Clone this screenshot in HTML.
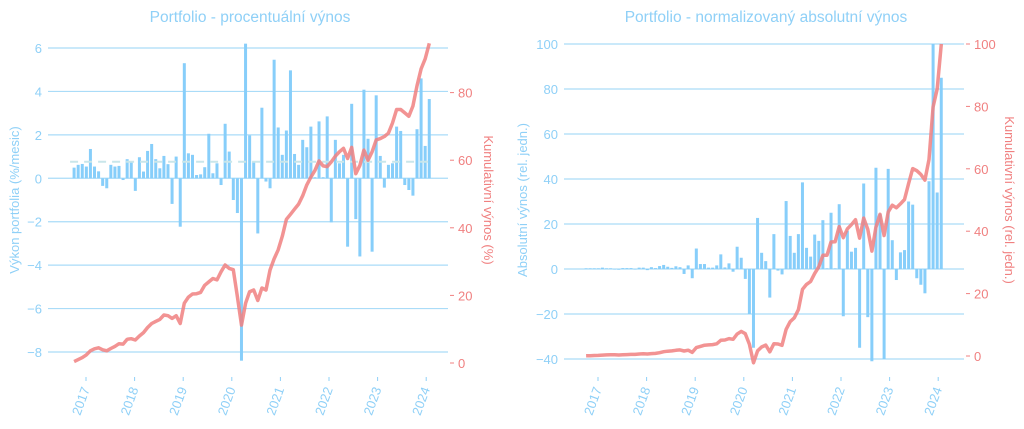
<!DOCTYPE html>
<html><head><meta charset="utf-8"><style>
body{margin:0;background:#fff;}
svg{display:block;font-family:"Liberation Sans",sans-serif;}
</style></head><body>
<svg id="chart" width="1024" height="429" viewBox="0 0 1024 429"></svg>
<script>
// ---- data ----
const years = [2017,2018,2019,2020,2021,2022,2023,2024];
const startYear = 2016.755; // first monthly bar (Oct 2016)
const pctReturns = [0.49,0.62,0.66,0.54,1.35,0.54,0.32,-0.35,-0.46,0.62,0.54,0.57,-0.08,0.88,0.77,-0.58,0.97,0.31,1.26,1.58,0.88,0.46,1.03,0.65,-1.18,1.0,-2.23,5.3,1.15,1.08,0.15,0.18,0.51,2.05,0.23,0.69,-0.31,2.51,1.23,-1.0,-1.6,-8.4,6.2,1.97,0.77,-2.54,3.25,-0.15,-0.46,5.46,2.34,1.08,2.2,4.97,1.12,0.62,1.77,1.43,2.38,0.05,2.62,0.05,2.85,-2.03,1.77,0.69,1.08,-3.15,3.43,-1.88,-3.6,4.08,1.82,-3.38,3.82,1.03,-0.43,0.62,0.69,2.38,2.18,-0.31,-0.54,-0.8,2.26,4.6,1.49,3.65];
const cumPct = [0.4,1.0,1.6,2.4,3.6,4.2,4.5,3.9,3.6,4.3,4.9,5.7,5.6,7.0,7.2,6.8,8.0,9.0,10.5,11.7,12.3,12.9,14.2,14.0,13.2,14.0,11.7,17.7,19.5,20.4,20.5,20.9,23.0,24.0,25.0,24.6,27.0,29.0,28.0,27.6,19.6,11.2,17.7,21.1,21.6,18.5,22.2,21.6,27.5,30.8,33.5,37.5,42.5,44.0,45.5,47.0,49.5,52.7,55.0,57.0,59.8,58.3,58.1,59.5,61.2,62.5,63.5,60.5,63.8,56.0,58.5,63.0,60.0,62.5,66.0,66.4,67.0,68.0,71.0,75.0,75.0,74.0,73.0,76.0,82.0,87.0,90.0,94.6];
const absReturns = [0.3,0.3,0.3,0.3,0.6,0.3,0.3,-0.2,-0.3,0.4,0.4,0.4,0,0.6,0.6,-0.5,0.8,0.4,1.3,1.8,1.0,0.5,1.2,0.8,-2.2,1.6,-4.1,9.1,2.2,2.2,0.6,0.6,1.6,6.5,0.7,2.5,-1.2,9.9,5.0,-4.4,-20,-35,22.7,7.2,3.5,-12.7,15.5,-0.7,-2.4,30.2,14.7,7.2,15.5,38.5,9.4,5.5,15.3,12.5,21.7,0.3,25,0.3,28.8,-21,17,7.7,9.4,-35,38,-21.4,-41,45,24.6,-40,44.5,12.8,-4.9,7.4,8.4,30,28.6,-4.1,-7,-10.8,39,100,34,85];
const meanPct = 0.76;
const leftTicksA = [6,4,2,0,-2,-4,-6,-8];
const rightTicksA = [0,20,40,60,80];
const leftTicksB = [100,80,60,40,20,0,-20,-40];
const rightTicksB = [0,20,40,60,80,100];

const NS="http://www.w3.org/2000/svg";
const svg=document.getElementById('chart');
function mk(tag,attrs,parent,name,inter){const e=document.createElementNS(NS,tag);for(const k in attrs)e.setAttribute(k,attrs[k]);


(parent||svg).appendChild(e);return e;}
const BLUE='#87cefa', GRID='#aadcf8', TXT='#8fd0f7', RED='#f08080';

function drawPanel(o){
  const g=mk('g',{},svg,o.name,false);
  const xS=t=>o.x2017+(t-2017)*o.pxYear;
  const yL=v=>o.y0L+(v-o.tL0)*(o.y1L-o.y0L)/(o.tL1-o.tL0);
  const yR=v=>o.y0R+(v)*(o.y100R-o.y0R)/100;
  const t=mk('text',{x:o.titleX,y:22,'text-anchor':'middle','font-size':15.5,fill:TXT},g,'chart-title',false);t.textContent=o.title;
  o.ticksL.forEach(v=>{
    mk('line',{x1:o.gx0,x2:o.gx1,y1:yL(v),y2:yL(v),stroke:GRID,'stroke-width':1.2},g,'grid-line',false);
    const tx=mk('text',{x:o.gx0-6,y:yL(v)+5,'text-anchor':'end','font-size':13,fill:TXT},g,'y-tick-label',false);tx.textContent=(v<0?'\u2212'+(-v):v);
  });
  o.ticksR.forEach(v=>{
    mk('line',{x1:o.gx1+2,x2:o.gx1+6,y1:yR(v),y2:yR(v),stroke:RED,'stroke-width':1},g,'right-tick',false);
    const tx=mk('text',{x:o.gx1+10,y:yR(v)+5,'font-size':13,fill:RED},g,'right-tick-label',false);tx.textContent=v;
  });
  years.forEach(yr=>{
    const x=xS(yr);
    mk('line',{x1:x,x2:x,y1:377,y2:381,stroke:TXT,'stroke-width':1},g,'x-tick',false);
    const tx=mk('text',{x:x+4,y:389,'text-anchor':'end','font-size':13,fill:TXT,transform:`rotate(-70 ${x+4} 389)`},g,'x-tick-label',false);tx.textContent=yr;
  });
  const a1=mk('text',{x:o.ylabX,y:o.ylabY,'text-anchor':'middle','font-size':13,fill:TXT,transform:`rotate(-90 ${o.ylabX} ${o.ylabY})`},g,'y-axis-title',false);a1.textContent=o.ylab;
  const a2=mk('text',{x:o.rlabX,y:o.ylabY,'text-anchor':'middle','font-size':13,fill:RED,transform:`rotate(90 ${o.rlabX} ${o.ylabY})`},g,'y2-axis-title',false);a2.textContent=o.rlab;
  o.bars.forEach((v,i)=>{
    const x=xS(startYear+i*0.084);
    const y0=yL(0),y1=yL(v);
    mk('rect',{x:x-1.5,y:Math.min(y0,y1),width:3,height:Math.max(0.5,Math.abs(y1-y0)),fill:BLUE},g,'bar',false);
  });
  if(o.mean!==undefined){
    const x0=xS(startYear)-4,x1=xS(startYear+(o.bars.length-1)*0.084)+3;
    mk('line',{x1:x0,x2:x1,y1:yL(o.mean),y2:yL(o.mean),stroke:'#c9e6ea','stroke-width':2,'stroke-dasharray':'8,6'},g,'mean-line',false);
  }
  const pts=o.line.map((v,i)=>xS(startYear+i*0.084).toFixed(1)+','+yR(v).toFixed(1)).join(' ');
  mk('polyline',{points:pts,fill:'none',stroke:RED,'stroke-opacity':0.85,'stroke-width':3.5,'stroke-linejoin':'round'},g,'cumulative-line',false);
}

let s=0;const cs=absReturns.map(v=>s+=v);const mx=Math.max(...cs);const cumAbs=cs.map(v=>v/mx*100);

drawPanel({name:'chart-percent-return',title:'Portfolio - procentuální výnos',titleX:250,
  x2017:86,pxYear:48.6,gx0:48,gx1:448,tL0:6,tL1:-8,y0L:48,y1L:352,y0R:363,y100R:25,
  ticksL:leftTicksA,ticksR:rightTicksA,bars:pctReturns,line:cumPct,mean:meanPct,
  ylab:'Výkon portfolia (%/mesic)',ylabX:19,ylabY:200,rlab:'Kumulativní výnos (%)',rlabX:484});
drawPanel({name:'chart-absolute-return',title:'Portfolio - normalizovaný absolutní výnos',titleX:766,
  x2017:598,pxYear:48.6,gx0:564,gx1:964,tL0:100,tL1:-40,y0L:44,y1L:359,y0R:356,y100R:44,
  ticksL:leftTicksB,ticksR:rightTicksB,bars:absReturns,line:cumAbs,
  ylab:'Absolutní výnos (rel. jedn.)',ylabX:527,ylabY:200,rlab:'Kumulativní výnos (rel. jedn.)',rlabX:1005});
</script>
</body></html>
